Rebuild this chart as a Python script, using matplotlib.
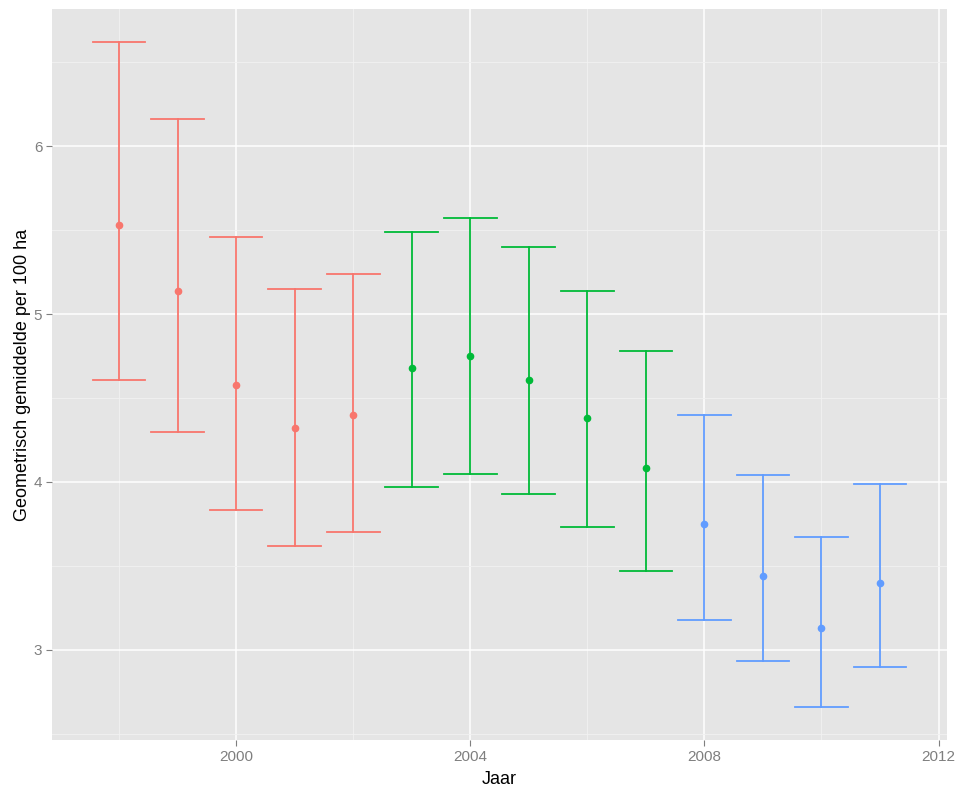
import matplotlib.pyplot as plt
import numpy as np

plt.rcParams['font.family'] = ['Liberation Sans', 'DejaVu Sans']

# geometric mean per 100 ha with confidence limits, per year
jaar = [1998, 1999, 2000, 2001, 2002, 2003, 2004, 2005, 2006, 2007, 2008, 2009, 2010, 2011]
gemiddelde = [5.53, 5.14, 4.58, 4.32, 4.40, 4.68, 4.75, 4.61, 4.38, 4.08, 3.75, 3.44, 3.13, 3.40]
bovengrens = [6.62, 6.16, 5.46, 5.15, 5.24, 5.49, 5.57, 5.40, 5.14, 4.78, 4.40, 4.04, 3.67, 3.99]
ondergrens = [4.61, 4.30, 3.83, 3.62, 3.70, 3.97, 4.05, 3.93, 3.73, 3.47, 3.18, 2.93, 2.66, 2.90]
groep = [0, 0, 0, 0, 0, 1, 1, 1, 1, 1, 2, 2, 2, 2]
kleuren = ['#F8766D', '#00BA38', '#619CFF']

fig = plt.figure(figsize=(9.6, 7.94), dpi=100)
ax = fig.add_axes([0.0542, 0.068, 0.9323, 0.9207])
ax.set_facecolor('#E5E5E5')

half = 0.45
for x, m, hi, lo, g in zip(jaar, gemiddelde, bovengrens, ondergrens, groep):
    c = kleuren[g]
    ax.plot([x, x], [lo, hi], color=c, lw=1.3, zorder=3)
    ax.plot([x - half, x + half], [hi, hi], color=c, lw=1.3, zorder=3)
    ax.plot([x - half, x + half], [lo, lo], color=c, lw=1.3, zorder=3)
    ax.plot(x, m, 'o', color=c, ms=4.5, zorder=4)

xmin, xmax = min(jaar) - half, max(jaar) + half
xpad = (xmax - xmin) * 0.05
ax.set_xlim(xmin - xpad, xmax + xpad)
ymin, ymax = min(ondergrens), max(bovengrens)
ypad = (ymax - ymin) * 0.05
ax.set_ylim(ymin - ypad, ymax + ypad)

ax.set_xticks([2000, 2004, 2008, 2012])
ax.set_xticks([1998, 2002, 2006, 2010], minor=True)
ax.set_yticks([3, 4, 5, 6])
ax.set_yticks([2.5, 3.5, 4.5, 5.5, 6.5], minor=True)

ax.grid(which='major', color='white', lw=1.1, zorder=1)
ax.grid(which='minor', color='#F2F2F2', lw=0.6, zorder=0)
ax.set_axisbelow(True)
for s in ax.spines.values():
    s.set_visible(False)

ax.tick_params(which='major', colors='#7F7F7F', labelsize=11, length=4, width=0.8, pad=3)
ax.tick_params(which='minor', length=0)
for lab in ax.get_xticklabels() + ax.get_yticklabels():
    lab.set_color('#7F7F7F')

ax.set_xlabel('Jaar', fontsize=13, labelpad=5)
ax.set_ylabel('Geometrisch gemiddelde per 100 ha', fontsize=13, labelpad=2)

fig.savefig('out.png', dpi=100)
